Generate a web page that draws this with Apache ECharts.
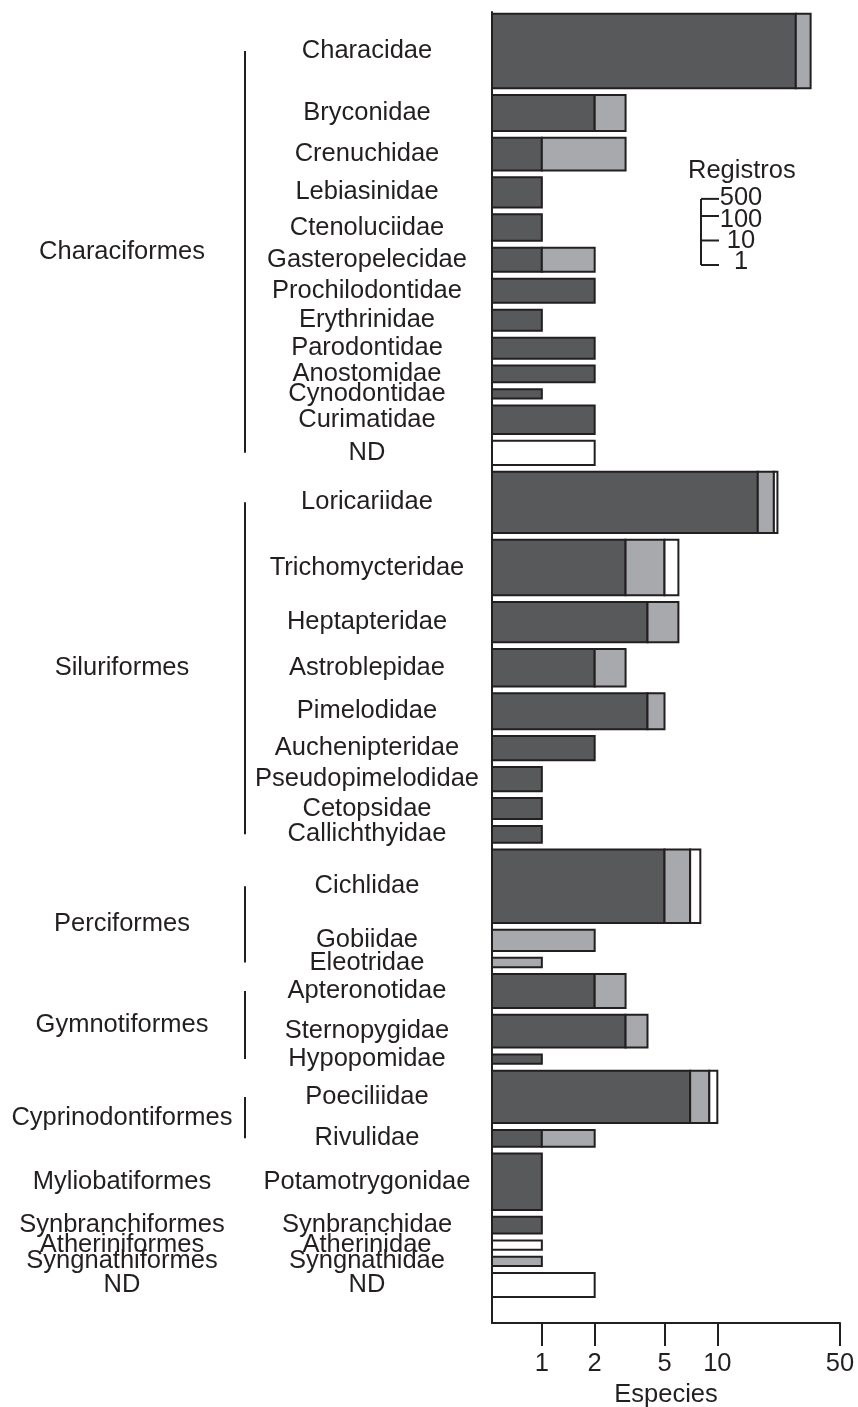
<!DOCTYPE html>
<html>
<head>
<meta charset="utf-8">
<title>Especies por familia</title>
<script src="https://cdn.jsdelivr.net/npm/echarts@6/dist/echarts.min.js"></script>
<style>
  html, body { margin: 0; padding: 0; background: #fff; }
  #chart { width: 858px; height: 1407px; }
</style>
</head>
<body>
<div id="chart"></div>
<script>
// one entry per family, top to bottom
const families = [
  'Characidae', 'Bryconidae', 'Crenuchidae', 'Lebiasinidae', 'Ctenoluciidae', 'Gasteropelecidae',
  'Prochilodontidae', 'Erythrinidae', 'Parodontidae', 'Anostomidae', 'Cynodontidae', 'Curimatidae', 'ND',
  'Loricariidae', 'Trichomycteridae', 'Heptapteridae', 'Astroblepidae', 'Pimelodidae', 'Auchenipteridae',
  'Pseudopimelodidae', 'Cetopsidae', 'Callichthyidae',
  'Cichlidae', 'Gobiidae', 'Eleotridae',
  'Apteronotidae', 'Sternopygidae', 'Hypopomidae',
  'Poeciliidae', 'Rivulidae',
  'Potamotrygonidae', 'Synbranchidae', 'Atherinidae', 'Syngnathidae', 'ND'
]
const orders = [
  'Characiformes', 'Characiformes', 'Characiformes', 'Characiformes', 'Characiformes', 'Characiformes',
  'Characiformes', 'Characiformes', 'Characiformes', 'Characiformes', 'Characiformes', 'Characiformes', 'Characiformes',
  'Siluriformes', 'Siluriformes', 'Siluriformes', 'Siluriformes', 'Siluriformes', 'Siluriformes',
  'Siluriformes', 'Siluriformes', 'Siluriformes',
  'Perciformes', 'Perciformes', 'Perciformes',
  'Gymnotiformes', 'Gymnotiformes', 'Gymnotiformes',
  'Cyprinodontiformes', 'Cyprinodontiformes',
  'Myliobatiformes', 'Synbranchiformes', 'Atheriniformes', 'Syngnathiformes', 'ND'
]
// species counts: dark, grey and white parts of each bar
const darkSpecies = [28, 2, 1, 1, 1, 1, 2, 1, 2, 2, 1, 2, 0, 17, 3, 4, 2, 4, 2, 1, 1, 1, 5, 0, 0, 2, 3, 1, 7, 1, 1, 1, 0, 0, 0]
const greySpecies = [6, 1, 2, 0, 0, 1, 0, 0, 0, 0, 0, 0, 0, 4, 2, 2, 1, 1, 0, 0, 0, 0, 2, 2, 1, 1, 1, 0, 2, 1, 0, 0, 0, 1, 0]
const whiteSpecies = [0, 0, 0, 0, 0, 0, 0, 0, 0, 0, 0, 0, 2, 1, 1, 0, 0, 0, 0, 0, 0, 0, 1, 0, 0, 0, 0, 0, 1, 0, 0, 0, 1, 0, 2]
// number of records, sets bar thickness
const records = [450, 12, 9, 7, 5, 4, 4, 3, 3, 2, 1, 6, 4, 130, 75, 18, 14, 12, 4, 4, 3, 2, 410, 3, 1, 10, 9, 1, 57, 2, 83, 2, 1, 1, 4]

const xTicks = [1, 2, 5, 10, 50]
const legendRecords = [500, 100, 10, 1]

const ink = '#231f20'
const fills = ['#58595b', '#a7a9ac', '#ffffff']
const font = '"Liberation Sans", Arial, sans-serif'
const fontSize = 25.5

// thickness in px: log of records, as drawn in the Registros key
function thickness(r) {
  return 11 + 24.5 * Math.log10(r)
}

// stack the bars from the top with a small gap
const gap = 5.25
const layout = []
let pos = 1
families.forEach((f, i) => {
  const t = thickness(records[i])
  layout.push({ top: pos, bottom: pos + t, mid: pos + t / 2 })
  pos += t + gap
})

// consecutive families of the same order
const orderSpans = []
orders.forEach((o, i) => {
  const last = orderSpans[orderSpans.length - 1]
  if (last && last.name === o) {
    last.end = i
  } else {
    orderSpans.push({ name: o, start: i, end: i })
  }
})

// Registros key
const keyX = 701
const keyBottom = 265
const keyLabelY = [198, 219.5, 241, 262]
const keyGraphics = [
  { type: 'text', left: 688, top: 158, style: { text: 'Registros', fill: ink, font: fontSize + 'px ' + font } },
  {
    type: 'line',
    shape: { x1: keyX, y1: keyBottom - (thickness(legendRecords[0]) - thickness(1)), x2: keyX, y2: keyBottom },
    style: { stroke: ink, lineWidth: 2 }
  }
]
legendRecords.forEach((r, k) => {
  const y = keyBottom - (thickness(r) - thickness(1))
  keyGraphics.push({ type: 'line', shape: { x1: keyX, y1: y, x2: keyX + 18, y2: y }, style: { stroke: ink, lineWidth: 2 } })
  keyGraphics.push({
    type: 'text', x: 741, y: keyLabelY[k],
    style: { text: String(r), fill: ink, font: fontSize + 'px ' + font, align: 'center', verticalAlign: 'middle' }
  })
})

const chart = echarts.init(document.getElementById('chart'))
chart.setOption({
  animation: false,
  grid: { left: 492, right: 18, top: 12, bottom: 84, outerBoundsMode: 'none' },
  xAxis: {
    type: 'log',
    logBase: 10,
    min: 0.52,
    max: 50,
    name: 'Especies',
    nameLocation: 'middle',
    nameGap: 56,
    nameTextStyle: { color: ink, fontSize: fontSize, fontFamily: font },
    axisLine: { onZero: false, lineStyle: { color: ink, width: 2 } },
    axisTick: { customValues: xTicks, length: 23, lineStyle: { color: ink, width: 2 } },
    axisLabel: { customValues: xTicks, margin: 28, color: ink, fontSize: fontSize, fontFamily: font },
    splitLine: { show: false }
  },
  yAxis: {
    type: 'value',
    inverse: true,
    min: 0,
    max: 1311,
    axisLine: { show: true, onZero: false, lineStyle: { color: ink, width: 2 } },
    axisTick: { show: false },
    axisLabel: { show: false },
    splitLine: { show: false }
  },
  graphic: keyGraphics,
  series: [
    {
      type: 'custom',
      clip: false,
      data: families.map((f, i) => [darkSpecies[i] + greySpecies[i] + whiteSpecies[i], layout[i].mid]),
      encode: { x: 0, y: 1 },
      renderItem: function (params, api) {
        const i = params.dataIndex
        const parts = [darkSpecies[i], greySpecies[i], whiteSpecies[i]]
        const yTop = api.coord([1, layout[i].top + 0.8])[1]
        const yBot = api.coord([1, layout[i].bottom - 0.8])[1]
        const children = []
        let total = 0
        let left = params.coordSys.x
        parts.forEach((n, k) => {
          if (!n) return
          total += n
          const right = api.coord([total, 0])[0]
          children.push({
            type: 'rect',
            shape: { x: left, y: yTop, width: right - left, height: yBot - yTop },
            style: { fill: fills[k], stroke: ink, lineWidth: 2 }
          })
          left = right
        })
        children.push({
          type: 'text',
          style: {
            text: families[i], x: 367, y: api.coord([1, layout[i].mid])[1],
            align: 'center', verticalAlign: 'middle', fill: ink, font: fontSize + 'px ' + font
          }
        })
        return { type: 'group', children: children }
      }
    },
    {
      type: 'custom',
      clip: false,
      data: orderSpans.map(s => [1, (layout[s.start].mid + layout[s.end].mid) / 2]),
      encode: { x: 0, y: 1 },
      renderItem: function (params, api) {
        const s = orderSpans[params.dataIndex]
        const y1 = api.coord([1, layout[s.start].mid])[1]
        const y2 = api.coord([1, layout[s.end].mid])[1]
        const children = [{
          type: 'text',
          style: {
            text: s.name, x: 122, y: (y1 + y2) / 2,
            align: 'center', verticalAlign: 'middle', fill: ink, font: fontSize + 'px ' + font
          }
        }]
        if (s.end > s.start) {
          children.push({ type: 'line', shape: { x1: 245, y1: y1, x2: 245, y2: y2 }, style: { stroke: ink, lineWidth: 2 } })
        }
        return { type: 'group', children: children }
      }
    }
  ]
})
</script>
</body>
</html>
